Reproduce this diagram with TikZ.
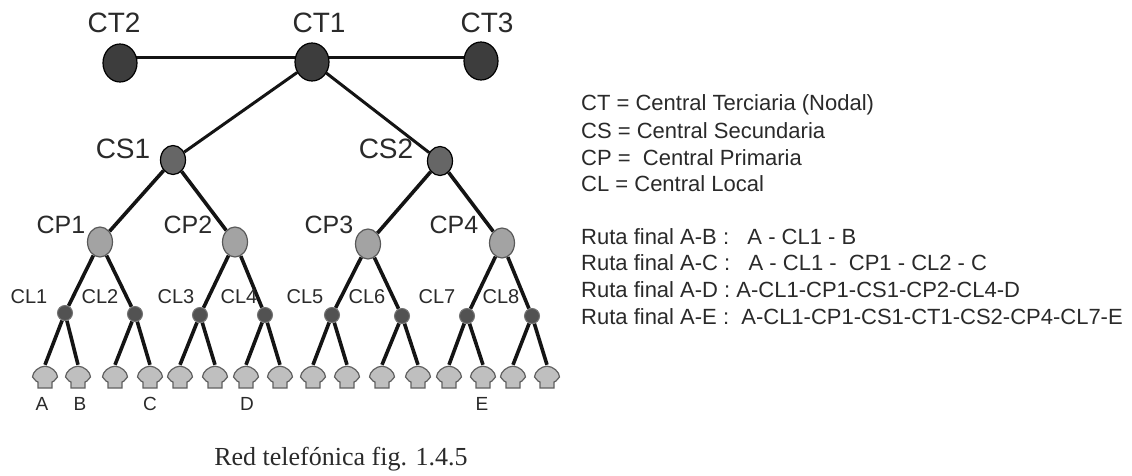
\documentclass[tikz,border=0pt]{standalone}
\usepackage{fontspec}
\setmainfont{Liberation Sans}
\newfontfamily\capfont{Liberation Serif}
\usetikzlibrary{backgrounds,shapes.geometric}
\definecolor{inkc}{HTML}{2A2A2A}
\tikzset{
  every node/.style={text=inkc},
  lab/.style={inner sep=0pt,font=\fontsize{#1}{#1}\selectfont},
  ctn/.style={ellipse,draw=black,line width=1.2pt,fill=black!76,minimum width=34pt,minimum height=38pt,inner sep=0pt},
  csn/.style={ellipse,draw=black,line width=1.2pt,fill=black!60,minimum width=25pt,minimum height=29pt,inner sep=0pt},
  cpn/.style={ellipse,draw=black!65,line width=1.2pt,fill=black!36,minimum width=25pt,minimum height=30pt,inner sep=0pt},
  cln/.style={circle,draw=black!55,line width=1pt,fill=black!68,minimum size=15pt,inner sep=0pt},
  phn/.style={rectangle,minimum width=27pt,minimum height=24pt,inner sep=0pt,
    path picture={
      \draw[x=1pt,y=1pt,draw=black!62,fill=black!25,line width=1.2pt]
       (-7,-11) -- (-7,-5) -- (-9,-4) -- (-12.5,0)
       .. controls (-12.5,5) and (-6,10.8) .. (0,10.8)
       .. controls (6,10.8) and (12.5,5) .. (12.5,0)
       -- (9,-4) -- (7,-5) -- (7,-11) -- cycle;
    }},
  wire/.style={line width=3.6pt,draw=black!92},
  wirethin/.style={line width=3pt,draw=black!92},
  legend/.style={lab=22,anchor=west},
}
\begin{document}
\begin{tikzpicture}[x=1pt,y=-1pt]
\useasboundingbox (0,0) rectangle (1132,476);
% central offices
\node[ctn] (CT2) at (120,63) {};
\node[ctn] (CT1) at (312,62) {};
\node[ctn] (CT3) at (481,61) {};
\node[csn] (CS1) at (173,160) {};
\node[csn] (CS2) at (440,161) {};
\node[cpn] (CP1) at (100,242) {};
\node[cpn] (CP2) at (235,242) {};
\node[cpn] (CP3) at (368,244) {};
\node[cpn] (CP4) at (502,243) {};
\foreach \n/\x/\y in {1/65/313,2/135/314,3/200/315,4/265/315,5/332/315,6/402/316,7/467/316,8/532/316}
  \node[cln] (CL\n) at (\x,\y) {};
\foreach \n/\x in {1/45,2/78,3/115,4/150,5/180,6/215,7/246,8/280,9/313,10/347,11/382,12/418,13/449,14/483,15/513,16/547}
  \node[phn] (T\n) at (\x,377) {};
% links
\begin{scope}[on background layer]
\fill[white] (0,0) rectangle (1132,476);
\draw[wirethin] ([yshift=5pt]CT2.center) -- ([yshift=4pt]CT1.center);
\draw[wirethin] ([yshift=4pt]CT1.center) -- ([yshift=3pt]CT3.center);
\draw[wirethin] (CT1) -- (CS1);
\draw[wirethin] (CT1) -- (CS2);
\draw[wire] (CS1) -- (CP1);
\draw[wire] (CS1) -- (CP2);
\draw[wire] (CS2) -- (CP3);
\draw[wire] (CS2) -- (CP4);
\draw[wire] (CP1) -- (CL1);
\draw[wire] (CP1) -- (CL2);
\draw[wire] (CP2) -- (CL3);
\draw[wire] (CP2) -- (CL4);
\draw[wire] (CP3) -- (CL5);
\draw[wire] (CP3) -- (CL6);
\draw[wire] (CP4) -- (CL7);
\draw[wire] (CP4) -- (CL8);
\draw[wire] (CL1) -- (T1.north);
\draw[wire] (CL1) -- (T2.north);
\draw[wire] (CL2) -- (T3.north);
\draw[wire] (CL2) -- (T4.north);
\draw[wire] (CL3) -- (T5.north);
\draw[wire] (CL3) -- (T6.north);
\draw[wire] (CL4) -- (T7.north);
\draw[wire] (CL4) -- (T8.north);
\draw[wire] (CL5) -- (T9.north);
\draw[wire] (CL5) -- (T10.north);
\draw[wire] (CL6) -- (T11.north);
\draw[wire] (CL6) -- (T12.north);
\draw[wire] (CL7) -- (T13.north);
\draw[wire] (CL7) -- (T14.north);
\draw[wire] (CL8) -- (T15.north);
\draw[wire] (CL8) -- (T16.north);
\end{scope}
% labels
\node[lab=28] (lCT2) at (114,23) {CT2};
\node[lab=28] (lCT1) at (319,23) {CT1};
\node[lab=28] (lCT3) at (487,23) {CT3};
\node[lab=28] (lCS1) at (123,149) {CS1};
\node[lab=28] (lCS2) at (386,149) {CS2};
\node[lab=25] (lCP1) at (61,225) {CP1};
\node[lab=25] (lCP2) at (188,225) {CP2};
\node[lab=25] (lCP3) at (329,225) {CP3};
\node[lab=25] (lCP4) at (454,225) {CP4};
\node[lab=20] (lCL1) at (29,297) {CL1};
\node[lab=20] (lCL2) at (100,297) {CL2};
\node[lab=20] (lCL3) at (176,297) {CL3};
\node[lab=20] (lCL4) at (239,297) {CL4};
\node[lab=20] (lCL5) at (305,297) {CL5};
\node[lab=20] (lCL6) at (367,297) {CL6};
\node[lab=20] (lCL7) at (437,297) {CL7};
\node[lab=20] (lCL8) at (501,297) {CL8};
\node[lab=19] (lA) at (42,404) {A};
\node[lab=19] (lB) at (80,404) {B};
\node[lab=19] (lC) at (150,404) {C};
\node[lab=19] (lD) at (247,404) {D};
\node[lab=19] (lE) at (482,404) {E};
% legend
\node[legend] (k1) at (581,105) {CT = Central Terciaria (Nodal)};
\node[legend] (k2) at (581,131) {CS = Central Secundaria};
\node[legend] (k3) at (581,158) {CP =\ \ Central Primaria};
\node[legend] (k4) at (581,184) {CL = Central Local};
\node[legend] (r1) at (581,237) {Ruta final A-B :\ \ \ A - CL1 - B};
\node[legend] (r2) at (581,263) {Ruta final A-C :\ \ \ A - CL1 -\ \ CP1 - CL2 - C};
\node[legend] (r3) at (581,290) {Ruta final A-D : A-CL1-CP1-CS1-CP2-CL4-D};
\node[legend] (r4) at (581,317) {Ruta final A-E :\ \ A-CL1-CP1-CS1-CT1-CS2-CP4-CL7-E};
\node[inner sep=0pt,font=\capfont\fontsize{26}{26}\selectfont] (cap) at (341,459) {Red telefónica fig. 1.4.5};
\end{tikzpicture}
\end{document}
